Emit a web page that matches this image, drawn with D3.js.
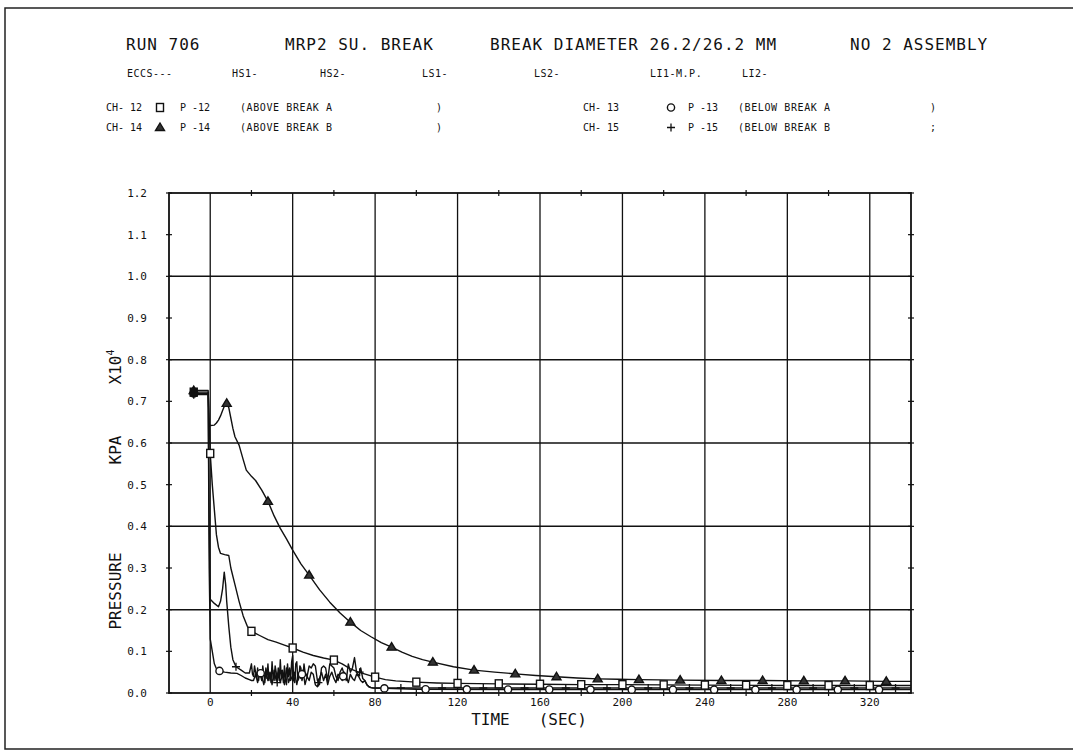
<!DOCTYPE html>
<html>
<head>
<meta charset="utf-8">
<script src="https://cdn.jsdelivr.net/npm/d3@7"></script>
<style>
  body { margin: 0; background: #fff; }
  svg { display: block; }
  text { font-family: "DejaVu Sans Mono", monospace; fill: #111; }
</style>
</head>
<body>
<svg id="chart" width="1073" height="756"></svg>
<script>
// header text
const titleParts = ["RUN 706", "MRP2 SU. BREAK", "BREAK DIAMETER 26.2/26.2 MM", "NO 2 ASSEMBLY"];
const groupLabels = ["ECCS---", "HS1-", "HS2-", "LS1-", "LS2-", "LI1-M.P.", "LI2-"];
const channels = [
  { ch: "CH- 12", sym: "square",   id: "P -12", desc: "(ABOVE BREAK A", end: ")" },
  { ch: "CH- 13", sym: "circle",   id: "P -13", desc: "(BELOW BREAK A", end: ")" },
  { ch: "CH- 14", sym: "triangle", id: "P -14", desc: "(ABOVE BREAK B", end: ")" },
  { ch: "CH- 15", sym: "plus",     id: "P -15", desc: "(BELOW BREAK B", end: ";" }
];

// axes
const xTicks = [0, 40, 80, 120, 160, 200, 240, 280, 320];
const xMinorTicks = [20, 60, 100, 140, 180, 220, 260, 300];
const yTicks = [0.0, 0.1, 0.2, 0.3, 0.4, 0.5, 0.6, 0.7, 0.8, 0.9, 1.0, 1.1, 1.2];
const yGrid = [0.2, 0.4, 0.6, 0.8, 1.0];

// P-12 (square)  [time s, pressure x10^4 kPa]
const p12 = [[-9,0.722],[-1,0.722],[0,0.575],[1,0.50],[2,0.44],[3,0.38],[4,0.35],[5,0.335],[7,0.332],[9,0.33],
  [10,0.30],[12,0.26],[14,0.22],[16,0.185],[18,0.16],[20,0.148],[24,0.138],[28,0.128],[32,0.122],[36,0.115],
  [40,0.108],[45,0.098],[50,0.09],[55,0.084],[60,0.079],[64,0.07],[68,0.058],[72,0.05],[76,0.044],[80,0.038],
  [85,0.032],[90,0.029],[100,0.026],[110,0.024],[120,0.023],[140,0.022],[160,0.021],[180,0.02],[200,0.02],
  [240,0.019],[280,0.018],[340,0.018]];
const p12Marks = [-8,0,20,40,60,80,100,120,140,160,180,200,220,240,260,280,300,320];

// P-14 (triangle)
const p14 = [[-9,0.726],[-1,0.726],[-0.5,0.645],[0,0.642],[2,0.643],[3,0.648],[4,0.655],[5,0.665],[6,0.678],
  [7,0.69],[8,0.695],[9,0.685],[10,0.66],[11,0.635],[12,0.615],[14,0.595],[16,0.56],[17.5,0.535],[20,0.52],
  [22,0.51],[25,0.487],[28,0.46],[31,0.425],[34,0.395],[37,0.37],[40,0.343],[44,0.31],[48,0.283],[53,0.248],
  [58,0.218],[63,0.192],[68,0.17],[73,0.15],[78,0.135],[83,0.121],[88,0.11],[93,0.098],[98,0.088],[103,0.08],
  [108,0.074],[118,0.063],[128,0.055],[138,0.05],[148,0.046],[158,0.042],[168,0.039],[178,0.036],[188,0.034],
  [198,0.033],[208,0.032],[228,0.031],[248,0.03],[268,0.03],[288,0.029],[308,0.029],[328,0.028],[340,0.028]];
const p14Marks = [-8,8,28,48,68,88,108,128,148,168,188,208,228,248,268,288,308,328];

// P-15 (plus)
const p15 = [[-9,0.716],[-1,0.716],[-0.5,0.40],[0,0.225],[2,0.215],[4,0.207],[5,0.22],[6,0.25],[6.8,0.29],
  [7.5,0.26],[8,0.22],[9,0.16],[10,0.11],[11,0.08],[12.5,0.063],[15,0.055],[17,0.048],[19,0.048],
  [20,0.07],[20.5,0.045],[21,0.04],[21.5,0.065],[22,0.05],[22.5,0.035],[23,0.06],[23.5,0.03],[24,0.055],
  [24.5,0.04],[25,0.03],[25.5,0.065],[26,0.045],[26.5,0.025],[27,0.06],[27.5,0.035],[28,0.07],[28.5,0.03],
  [29,0.05],[29.5,0.025],[30,0.075],[30.5,0.04],[31,0.03],[31.5,0.065],[32,0.05],[32.5,0.025],[33,0.06],
  [33.5,0.03],[34,0.08],[34.5,0.035],[35,0.055],[35.5,0.025],[36,0.065],[36.5,0.03],[37,0.02],[37.5,0.07],
  [38,0.04],[38.5,0.06],[39,0.03],[39.5,0.075],[40,0.09],[40.5,0.03],[41,0.025],[41.5,0.07],[42,0.075],
  [42.5,0.03],[43,0.035],[43.5,0.065],[44,0.06],[44.5,0.03],[45,0.04],[45.5,0.07],[46,0.05],
  [47,0.04],[48,0.065],[49,0.06],[50,0.07],[51,0.065],[52,0.03],[53,0.02],[54,0.06],[55,0.065],[56,0.06],
  [57,0.03],[58,0.07],[59,0.065],[60,0.06],[61,0.04],[62,0.03],[63,0.05],[64,0.06],[65,0.045],[66,0.03],
  [67,0.07],[68,0.05],[69,0.06],[70,0.085],[71,0.05],[72,0.04],[73,0.06],[74,0.035],[75,0.03],[76,0.02],
  [77,0.015],[78,0.013],[80,0.012],[120,0.012],[200,0.012],[340,0.012]];
const p15Marks = [-8,12.5,32.5,52.5,72.5,92.5,112.5,132.5,152.5,172.5,192.5,212.5,232.5,252.5,272.5,292.5,312.5,332.5];

// P-13 (circle)
const p13 = [[-9,0.719],[-1,0.719],[-0.5,0.30],[0,0.13],[1,0.10],[2,0.07],[3,0.058],[4.5,0.053],[7,0.05],
  [10,0.048],[13,0.047],[15,0.042],[17,0.036],[19,0.032],[20,0.03],
  [21,0.03],[22,0.045],[23,0.025],[24,0.055],[25,0.04],[26,0.02],[27,0.05],[28,0.03],[29,0.045],[30,0.02],
  [31,0.055],[32,0.03],[33,0.05],[34,0.025],[35,0.045],[36,0.02],[37,0.06],[38,0.025],[39,0.04],[40,0.03],
  [41,0.05],[42,0.02],[43,0.045],[44,0.035],[45,0.055],[46,0.02],[47,0.04],[48,0.03],[49,0.05],[50,0.045],
  [51,0.02],[52,0.015],[53,0.035],[54,0.05],[55,0.03],[56,0.045],[57,0.02],[58,0.04],[59,0.05],[60,0.035],
  [61,0.025],[62,0.045],[63,0.04],[64,0.03],[65,0.05],[66,0.04],[67,0.025],[68,0.045],[69,0.035],[70,0.03],
  [71,0.045],[72,0.04],[73,0.03],[74,0.025],[75,0.03],[76,0.02],[77,0.015],[78,0.013],[79,0.012],[85,0.011],
  [100,0.009],[200,0.008],[340,0.008]];
const p13Marks = [-8,4.5,24.5,44.5,64.5,84.5,104.5,124.5,144.5,164.5,184.5,204.5,224.5,244.5,264.5,284.5,304.5,324.5];

const series = [
  { data: p12, marks: p12Marks, sym: "square" },
  { data: p13, marks: p13Marks, sym: "circle" },
  { data: p14, marks: p14Marks, sym: "triangle" },
  { data: p15, marks: p15Marks, sym: "plus" }
];

const svg = d3.select("#chart");
const plot = { left: 169, right: 911, top: 193, bottom: 693 };

const x = d3.scaleLinear().domain([-20, 340]).range([plot.left, plot.right]);
const y = d3.scaleLinear().domain([0, 1.2]).range([plot.bottom, plot.top]);

// page frame
svg.append("path")
  .attr("d", "M1073,8 H5 V749 H1073")
  .attr("fill", "none").attr("stroke", "#222").attr("stroke-width", 1.5);

// filled = the pre-break points, which print as one black blob
function drawSymbol(g, sym, cx, cy, filled) {
  const fill = filled ? "#111" : "#fff";
  if (sym === "square") {
    g.append("rect").attr("x", cx - 3.5).attr("y", cy - 4).attr("width", 7).attr("height", 8)
      .attr("fill", fill).attr("stroke", "#111").attr("stroke-width", 1.4);
  } else if (sym === "circle") {
    g.append("circle").attr("cx", cx).attr("cy", cy).attr("r", 3.6)
      .attr("fill", fill).attr("stroke", "#111").attr("stroke-width", 1.4);
  } else if (sym === "triangle") {
    g.append("path").attr("d", `M${cx},${cy - 4.5} L${cx + 4.5},${cy + 3} L${cx - 4.5},${cy + 3} Z`)
      .attr("fill", filled ? "#111" : "#333").attr("stroke", "#111").attr("stroke-width", 1.4);
  } else {
    g.append("path").attr("d", `M${cx - 4},${cy} H${cx + 4} M${cx},${cy - 4} V${cy + 4}`)
      .attr("stroke", "#111").attr("stroke-width", 1.3);
  }
}

// header
const hx = [126, 285, 490, 850];
svg.append("g").selectAll("text").data(titleParts).join("text")
  .attr("x", (d, i) => hx[i]).attr("y", 50)
  .style("font-size", "16px").style("letter-spacing", "1px").text(d => d);

const gx = [127, 232, 320, 422, 534, 650, 742];
svg.append("g").selectAll("text").data(groupLabels).join("text")
  .attr("x", (d, i) => gx[i]).attr("y", 77)
  .style("font-size", "10px").style("letter-spacing", "0.5px").text(d => d);

const legend = svg.append("g");
channels.forEach((c, i) => {
  const right = i % 2 === 1;
  const ly = 111 + Math.floor(i / 2) * 20;
  const fs = "10px";
  legend.append("text").attr("x", right ? 583 : 106).attr("y", ly).style("font-size", fs).text(c.ch);
  drawSymbol(legend, c.sym, right ? 671 : 160, ly - 3.5, false);
  legend.append("text").attr("x", right ? 688 : 180).attr("y", ly).style("font-size", fs).text(c.id);
  legend.append("text").attr("x", right ? 738 : 240).attr("y", ly).style("font-size", fs)
    .style("letter-spacing", "0.6px").text(c.desc);
  legend.append("text").attr("x", right ? 930 : 436).attr("y", ly).style("font-size", fs).text(c.end);
});

// grid
const grid = svg.append("g").attr("stroke", "#111");
grid.selectAll("line.v").data(xTicks).join("line").attr("class", "v")
  .attr("x1", d => x(d)).attr("x2", d => x(d))
  .attr("y1", plot.top).attr("y2", plot.bottom).attr("stroke-width", 1.3);
grid.selectAll("line.h").data(yGrid).join("line").attr("class", "h")
  .attr("x1", plot.left).attr("x2", plot.right)
  .attr("y1", d => y(d)).attr("y2", d => y(d)).attr("stroke-width", 1.5);

// frame of the plot
svg.append("rect")
  .attr("x", plot.left).attr("y", plot.top)
  .attr("width", plot.right - plot.left).attr("height", plot.bottom - plot.top)
  .attr("fill", "none").attr("stroke", "#111").attr("stroke-width", 1.8);

// axis ticks
const ticks = svg.append("g").attr("stroke", "#111").attr("stroke-width", 1.2);
yTicks.forEach(v => {
  ticks.append("line").attr("x1", plot.left - 3).attr("x2", plot.left + 3).attr("y1", y(v)).attr("y2", y(v));
  ticks.append("line").attr("x1", plot.right - 3).attr("x2", plot.right + 3).attr("y1", y(v)).attr("y2", y(v));
});
xMinorTicks.forEach(v => {
  ticks.append("line").attr("x1", x(v)).attr("x2", x(v)).attr("y1", plot.top - 3).attr("y2", plot.top + 3);
  ticks.append("line").attr("x1", x(v)).attr("x2", x(v)).attr("y1", plot.bottom - 3).attr("y2", plot.bottom + 3);
});

// tick labels
svg.append("g").selectAll("text").data(yTicks).join("text")
  .attr("x", 147).attr("y", d => y(d)).attr("dy", "0.35em")
  .attr("text-anchor", "end").style("font-size", "11px")
  .text(d => d3.format(".1f")(d));
svg.append("g").selectAll("text").data(xTicks).join("text")
  .attr("x", d => x(d)).attr("y", 706)
  .attr("text-anchor", "middle").style("font-size", "11px")
  .text(d => d);

// axis titles
svg.append("text").attr("x", 529).attr("y", 725).attr("text-anchor", "middle")
  .style("font-size", "16px").attr("xml:space", "preserve").text("TIME   (SEC)");
svg.append("text").attr("transform", "translate(121,591) rotate(-90)").attr("text-anchor", "middle")
  .style("font-size", "16px").text("PRESSURE");
svg.append("text").attr("transform", "translate(121,450) rotate(-90)").attr("text-anchor", "middle")
  .style("font-size", "16px").text("KPA");
const xt = svg.append("text").attr("transform", "translate(121,367) rotate(-90)").attr("text-anchor", "middle")
  .style("font-size", "16px");
xt.append("tspan").text("X10");
xt.append("tspan").attr("dy", "-7").style("font-size", "10px").text("4");

// curves
const line = d3.line().x(d => x(d[0])).y(d => y(d[1]));
const curves = svg.append("g");
series.forEach(s => {
  curves.append("path").datum(s.data)
    .attr("d", line).attr("fill", "none")
    .attr("stroke", "#111").attr("stroke-width", 1.4).attr("stroke-linejoin", "round");
});

function valueAt(data, t) {
  const i = d3.bisector(d => d[0]).left(data, t);
  if (i <= 0) return data[0][1];
  if (i >= data.length) return data[data.length - 1][1];
  const a = data[i - 1], b = data[i];
  return a[1] + (b[1] - a[1]) * (t - a[0]) / (b[0] - a[0]);
}

const marks = svg.append("g");
series.forEach(s => {
  s.marks.forEach(t => drawSymbol(marks, s.sym, x(t), y(valueAt(s.data, t)), t < 0));
});
</script>
</body>
</html>
